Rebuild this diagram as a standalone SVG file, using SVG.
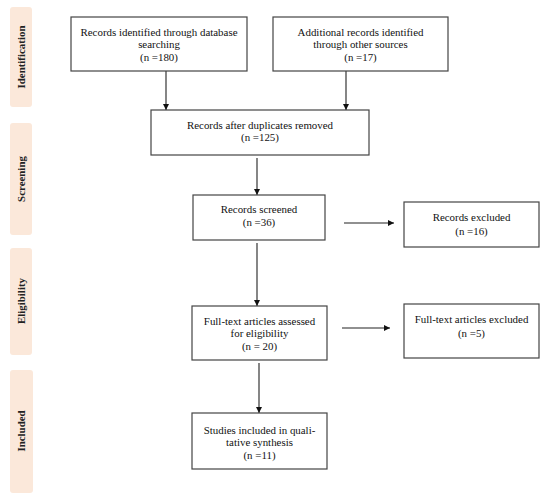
<svg xmlns="http://www.w3.org/2000/svg" width="550" height="500" viewBox="0 0 550 500">
<style>
.bar{fill:#fbe8da}
.box{fill:#fff;stroke:#444;stroke-width:1.2}
.t{font-family:"Liberation Serif","Times New Roman",serif;font-size:10.9px;fill:#111;text-anchor:middle}
.s{font-family:"Liberation Serif","Times New Roman",serif;font-size:10.9px;font-weight:bold;fill:#222;text-anchor:middle}
.c{stroke:#222;stroke-width:1.1;fill:none;marker-end:url(#ah)}
</style>
<defs>
<marker id="ah" viewBox="0 0 10 10" refX="10" refY="5" markerWidth="6" markerHeight="6" markerUnits="userSpaceOnUse" orient="auto">
<path d="M0,0 L10,5 L0,10 z" fill="#111"/>
</marker>
</defs>
<rect width="550" height="500" fill="#fff"/>
<g id="stage-identification">
<rect class="bar" x="10" y="7" width="22" height="100" rx="3"/>
<text class="s" transform="translate(24.5,57) rotate(-90)">Identification</text>
</g>
<g id="stage-screening">
<rect class="bar" x="10" y="123" width="22" height="112" rx="3"/>
<text class="s" transform="translate(24.5,179) rotate(-90)">Screening</text>
</g>
<g id="stage-eligibility">
<rect class="bar" x="10" y="248" width="22" height="107" rx="3"/>
<text class="s" transform="translate(24.5,301) rotate(-90)">Eligibility</text>
</g>
<g id="stage-included">
<rect class="bar" x="10" y="370" width="23" height="123" rx="3"/>
<text class="s" transform="translate(25,431) rotate(-90)">Included</text>
</g>
<g id="connectors">
<line class="c" x1="166" y1="71" x2="166" y2="110"/>
<line class="c" x1="346" y1="71" x2="346" y2="110"/>
<line class="c" x1="257" y1="158" x2="257" y2="195"/>
<line class="c" x1="344" y1="223" x2="394" y2="223"/>
<line class="c" x1="257" y1="243" x2="257" y2="306"/>
<line class="c" x1="342" y1="328" x2="390" y2="328"/>
<line class="c" x1="259" y1="363" x2="259" y2="413"/>
</g>
<g id="n1">
<rect class="box" x="71" y="17" width="176" height="54"/>
<text class="t" x="159" y="36">Records identified through database</text>
<text class="t" x="159" y="48">searching</text>
<text class="t" x="159" y="61">(n =180)</text>
</g>
<g id="n2">
<rect class="box" x="273" y="17" width="175" height="54"/>
<text class="t" x="360.5" y="36">Additional records identified</text>
<text class="t" x="360.5" y="48">through other sources</text>
<text class="t" x="360.5" y="61">(n =17)</text>
</g>
<g id="n3">
<rect class="box" x="151" y="110" width="218" height="45"/>
<text class="t" x="260" y="129">Records after duplicates removed</text>
<text class="t" x="260" y="141">(n =125)</text>
</g>
<g id="n4">
<rect class="box" x="193" y="195" width="132" height="45"/>
<text class="t" x="259" y="213">Records screened</text>
<text class="t" x="259" y="226">(n =36)</text>
</g>
<g id="n5">
<rect class="box" x="404" y="202" width="135" height="45"/>
<text class="t" x="471.5" y="221">Records excluded</text>
<text class="t" x="471.5" y="235">(n =16)</text>
</g>
<g id="n6">
<rect class="box" x="192" y="306" width="135" height="54"/>
<text class="t" x="259.5" y="325">Full-text articles assessed</text>
<text class="t" x="259.5" y="337">for eligibility</text>
<text class="t" x="259.5" y="350">(n = 20)</text>
</g>
<g id="n7">
<rect class="box" x="404" y="304" width="135" height="54"/>
<text class="t" x="471.5" y="323">Full-text articles excluded</text>
<text class="t" x="471.5" y="337">(n =5)</text>
</g>
<g id="n8">
<rect class="box" x="192" y="413" width="135" height="56"/>
<text class="t" x="259.5" y="434">Studies included in quali-</text>
<text class="t" x="259.5" y="446">tative synthesis</text>
<text class="t" x="259.5" y="459">(n =11)</text>
</g>
</svg>
